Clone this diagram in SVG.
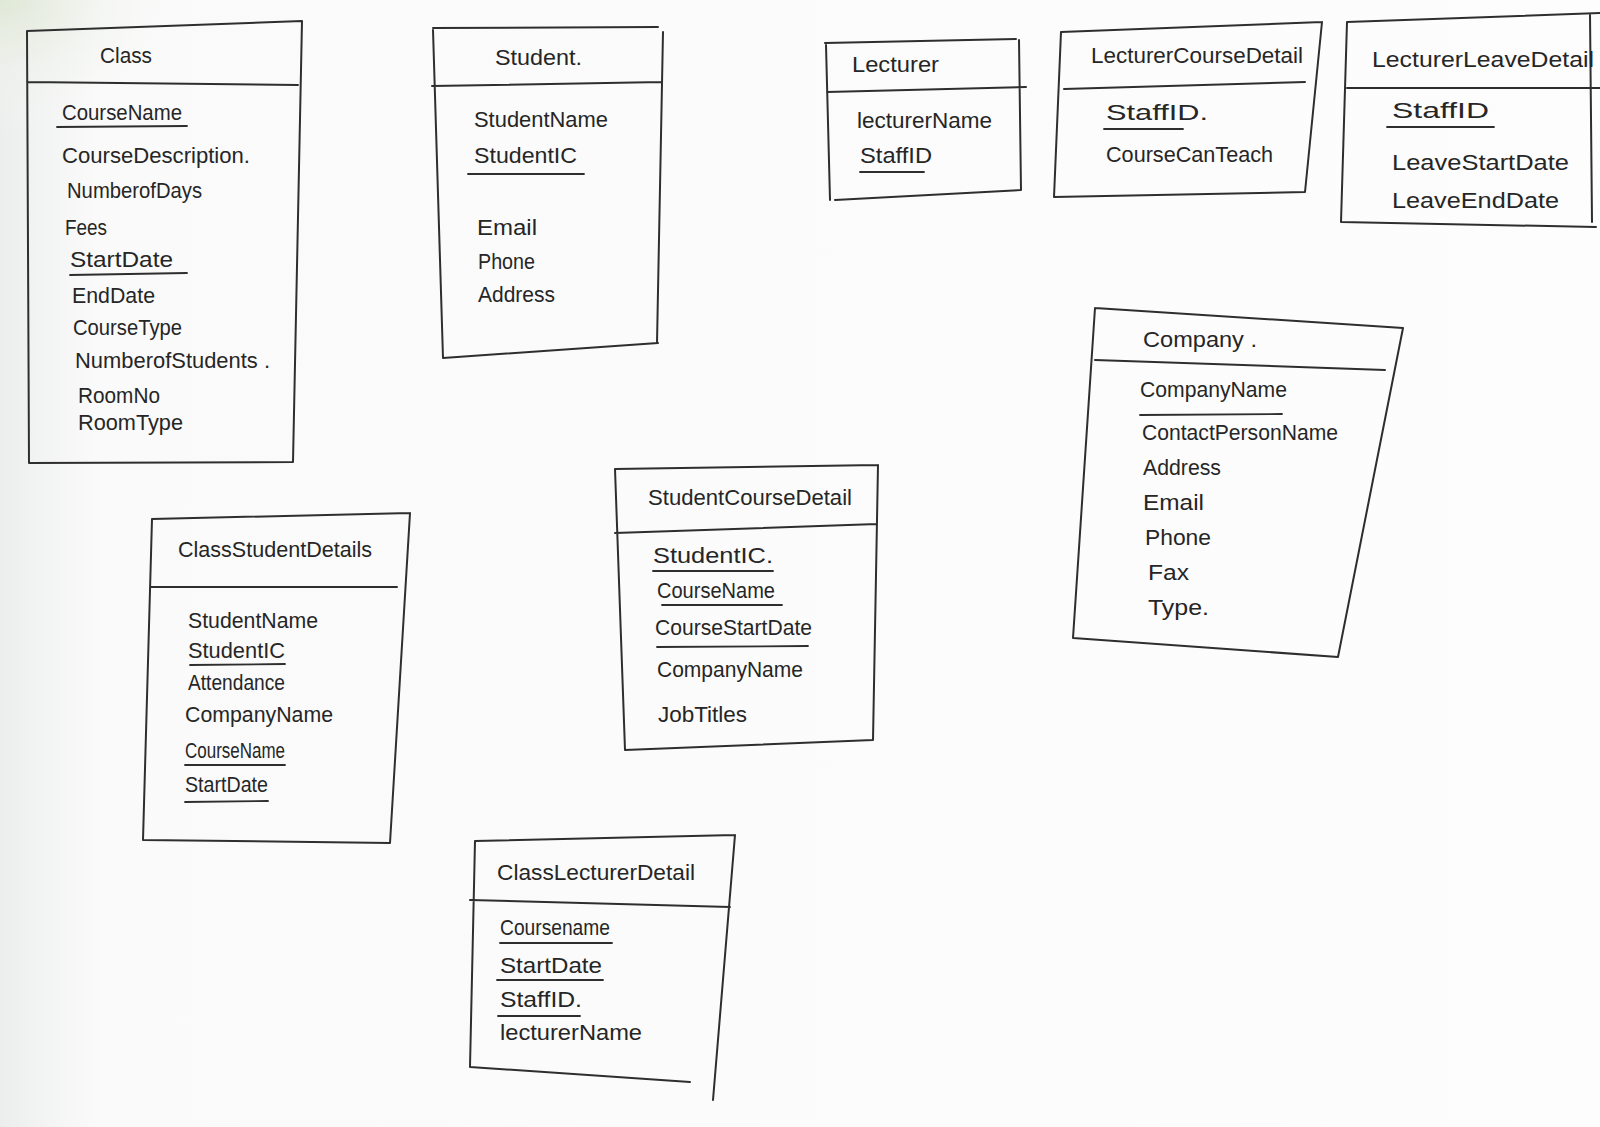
<svg xmlns="http://www.w3.org/2000/svg" width="1600" height="1127" viewBox="0 0 1600 1127">
<defs>
<linearGradient id="bg" x1="0" y1="0" x2="1" y2="0">
<stop offset="0" stop-color="#eceeed"/>
<stop offset="0.06" stop-color="#fafafa"/>
<stop offset="1" stop-color="#fdfdfd"/>
</linearGradient>
<radialGradient id="corner" cx="0" cy="0" r="0.12">
<stop offset="0" stop-color="#dfe8d6"/>
<stop offset="1" stop-color="#fafafa" stop-opacity="0"/>
</radialGradient>
</defs>
<style>
.ln{fill:none;stroke:#2e2e2e;stroke-width:2;stroke-linecap:round;stroke-linejoin:round}
.ul{fill:none;stroke:#2e2e2e;stroke-width:1.8;stroke-linecap:round}
.t{font-family:"Liberation Sans","DejaVu Sans",sans-serif;font-size:22px;fill:#262626}
</style>
<rect width="1600" height="1127" fill="url(#bg)"/>
<rect width="1600" height="1127" fill="url(#corner)"/>

<g id="node-class">
<path class="ln" d="M27,31 L302,21 M302,21 L293,462 M29,463 L293,462 M27,31 L29,463 M27,82 L298,85"/>
<text class="t" x="100" y="63" textLength="52" lengthAdjust="spacingAndGlyphs">Class</text>
<text class="t" x="62" y="120" textLength="120" lengthAdjust="spacingAndGlyphs">CourseName</text>
<path class="ul" d="M57,127 L187,126"/>
<text class="t" x="62" y="163" textLength="188" lengthAdjust="spacingAndGlyphs">CourseDescription.</text>
<text class="t" x="67" y="198" textLength="135" lengthAdjust="spacingAndGlyphs">NumberofDays</text>
<text class="t" x="65" y="235" textLength="42" lengthAdjust="spacingAndGlyphs">Fees</text>
<text class="t" x="70" y="267" textLength="103" lengthAdjust="spacingAndGlyphs">StartDate</text>
<path class="ul" d="M70,275 L187,273"/>
<text class="t" x="72" y="303" textLength="83" lengthAdjust="spacingAndGlyphs">EndDate</text>
<text class="t" x="73" y="335" textLength="109" lengthAdjust="spacingAndGlyphs">CourseType</text>
<text class="t" x="75" y="368" textLength="195" lengthAdjust="spacingAndGlyphs">NumberofStudents .</text>
<text class="t" x="78" y="403" textLength="82" lengthAdjust="spacingAndGlyphs">RoomNo</text>
<text class="t" x="78" y="430" textLength="105" lengthAdjust="spacingAndGlyphs">RoomType</text>
</g>

<g id="node-student">
<path class="ln" d="M433,28 L658,27 M663,32 L657,343 M443,358 L658,343 M433,30 L443,358 M432,86 L662,82"/>
<text class="t" x="495" y="65" textLength="87" lengthAdjust="spacingAndGlyphs">Student.</text>
<text class="t" x="474" y="127" textLength="134" lengthAdjust="spacingAndGlyphs">StudentName</text>
<text class="t" x="474" y="163" textLength="103" lengthAdjust="spacingAndGlyphs">StudentIC</text>
<path class="ul" d="M468,174 L584,174"/>
<text class="t" x="477" y="235" textLength="60" lengthAdjust="spacingAndGlyphs">Email</text>
<text class="t" x="478" y="269" textLength="57" lengthAdjust="spacingAndGlyphs">Phone</text>
<text class="t" x="478" y="302" textLength="77" lengthAdjust="spacingAndGlyphs">Address</text>
</g>

<g id="node-lecturer">
<path class="ln" d="M825,43 L1016,39 M826,45 L830,200 M1019,40 L1021,190 M835,200 L1021,190 M827,92 L1026,87"/>
<text class="t" x="852" y="72" textLength="87" lengthAdjust="spacingAndGlyphs">Lecturer</text>
<text class="t" x="857" y="128" textLength="135" lengthAdjust="spacingAndGlyphs">lecturerName</text>
<text class="t" x="860" y="163" textLength="72" lengthAdjust="spacingAndGlyphs">StaffID</text>
<path class="ul" d="M860,172 L924,172"/>
</g>

<g id="node-lecturercoursedetail">
<path class="ln" d="M1061,32 L1322,22 M1061,32 L1054,197 M1322,22 L1305,192 M1054,197 L1305,192 M1064,89 L1305,82"/>
<text class="t" x="1091" y="63" textLength="212" lengthAdjust="spacingAndGlyphs">LecturerCourseDetail</text>
<text class="t" x="1106" y="120" textLength="102" lengthAdjust="spacingAndGlyphs">StaffID.</text>
<path class="ul" d="M1104,129 L1183,129"/>
<text class="t" x="1106" y="162" textLength="167" lengthAdjust="spacingAndGlyphs">CourseCanTeach</text>
</g>

<g id="node-lecturerleavedetail">
<path class="ln" d="M1347,22 L1600,13 M1347,22 L1341,222 M1590,14 L1592,222 M1341,222 L1596,227 M1347,88 L1600,88"/>
<text class="t" x="1372" y="67" textLength="222" lengthAdjust="spacingAndGlyphs">LecturerLeaveDetail</text>
<text class="t" x="1392" y="118" textLength="97" lengthAdjust="spacingAndGlyphs">StaffID</text>
<path class="ul" d="M1387,127 L1494,127"/>
<text class="t" x="1392" y="170" textLength="177" lengthAdjust="spacingAndGlyphs">LeaveStartDate</text>
<text class="t" x="1392" y="208" textLength="167" lengthAdjust="spacingAndGlyphs">LeaveEndDate</text>
</g>

<g id="node-company">
<path class="ln" d="M1095,308 L1403,328 M1095,308 L1073,638 M1403,328 L1338,657 M1073,638 L1338,657 M1095,360 L1385,370"/>
<text class="t" x="1143" y="347" textLength="114" lengthAdjust="spacingAndGlyphs">Company .</text>
<text class="t" x="1140" y="397" textLength="147" lengthAdjust="spacingAndGlyphs">CompanyName</text>
<path class="ul" d="M1140,415 L1282,414"/>
<text class="t" x="1142" y="440" textLength="196" lengthAdjust="spacingAndGlyphs">ContactPersonName</text>
<text class="t" x="1143" y="475" textLength="78" lengthAdjust="spacingAndGlyphs">Address</text>
<text class="t" x="1143" y="510" textLength="61" lengthAdjust="spacingAndGlyphs">Email</text>
<text class="t" x="1145" y="545" textLength="66" lengthAdjust="spacingAndGlyphs">Phone</text>
<text class="t" x="1148" y="580" textLength="41" lengthAdjust="spacingAndGlyphs">Fax</text>
<text class="t" x="1148" y="615" textLength="61" lengthAdjust="spacingAndGlyphs">Type.</text>
</g>

<g id="node-classstudentdetails">
<path class="ln" d="M152,519 L410,513 M152,519 L143,840 M410,513 L390,843 M143,840 L390,843 M150,587 L397,587"/>
<text class="t" x="178" y="557" textLength="194" lengthAdjust="spacingAndGlyphs">ClassStudentDetails</text>
<text class="t" x="188" y="628" textLength="130" lengthAdjust="spacingAndGlyphs">StudentName</text>
<text class="t" x="188" y="658" textLength="97" lengthAdjust="spacingAndGlyphs">StudentIC</text>
<path class="ul" d="M190,665 L285,664"/>
<text class="t" x="188" y="690" textLength="97" lengthAdjust="spacingAndGlyphs">Attendance</text>
<text class="t" x="185" y="722" textLength="148" lengthAdjust="spacingAndGlyphs">CompanyName</text>
<text class="t" x="185" y="758" textLength="100" lengthAdjust="spacingAndGlyphs">CourseName</text>
<path class="ul" d="M185,765 L285,765"/>
<text class="t" x="185" y="792" textLength="83" lengthAdjust="spacingAndGlyphs">StartDate</text>
<path class="ul" d="M185,802 L268,801"/>
</g>

<g id="node-studentcoursedetail">
<path class="ln" d="M615,469 L878,465 M615,469 L625,750 M878,465 L873,740 M625,750 L873,740 M615,533 L877,524"/>
<text class="t" x="648" y="505" textLength="204" lengthAdjust="spacingAndGlyphs">StudentCourseDetail</text>
<text class="t" x="653" y="563" textLength="120" lengthAdjust="spacingAndGlyphs">StudentIC.</text>
<path class="ul" d="M653,571 L773,571"/>
<text class="t" x="657" y="598" textLength="118" lengthAdjust="spacingAndGlyphs">CourseName</text>
<path class="ul" d="M662,605 L782,605"/>
<text class="t" x="655" y="635" textLength="157" lengthAdjust="spacingAndGlyphs">CourseStartDate</text>
<path class="ul" d="M657,647 L808,646"/>
<text class="t" x="657" y="677" textLength="146" lengthAdjust="spacingAndGlyphs">CompanyName</text>
<text class="t" x="658" y="722" textLength="89" lengthAdjust="spacingAndGlyphs">JobTitles</text>
</g>

<g id="node-classlecturerdetail">
<path class="ln" d="M475,841 L735,835 M475,841 L470,1067 M735,835 L713,1100 M470,1067 L690,1082 M470,900 L730,907"/>
<text class="t" x="497" y="880" textLength="198" lengthAdjust="spacingAndGlyphs">ClassLecturerDetail</text>
<text class="t" x="500" y="935" textLength="110" lengthAdjust="spacingAndGlyphs">Coursename</text>
<path class="ul" d="M500,943 L612,943"/>
<text class="t" x="500" y="973" textLength="102" lengthAdjust="spacingAndGlyphs">StartDate</text>
<path class="ul" d="M497,980 L603,980"/>
<text class="t" x="500" y="1007" textLength="82" lengthAdjust="spacingAndGlyphs">StaffID.</text>
<path class="ul" d="M498,1016 L580,1016"/>
<text class="t" x="500" y="1040" textLength="142" lengthAdjust="spacingAndGlyphs">lecturerName</text>
</g>

<g id="connectors"></g>
</svg>
